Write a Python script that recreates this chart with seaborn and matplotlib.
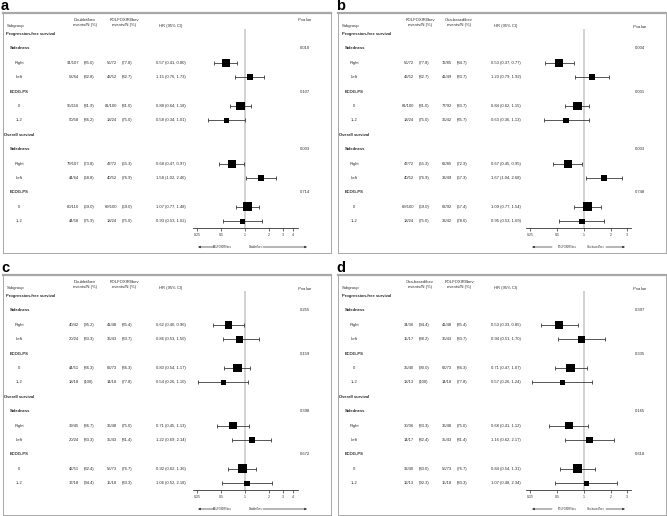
"""
Four-panel forest plot: HR by sidedness / ECOG-PS for PFS and OS.
"""
import matplotlib
matplotlib.use("Agg")
import matplotlib.pyplot as plt
import matplotlib.transforms as mtransforms
from matplotlib.ticker import NullLocator
import pandas as pd
import seaborn as sns

W, H = 667, 516

SUBGROUPS = ["Right", "Left", "0", "1–2", "Right", "Left", "0", "1–2"]
DATA_ROWS = [2, 3, 5, 6, 9, 10, 12, 13]
TICKS_4 = [0.25, 0.5, 1, 2, 3, 4]
TICKS_3 = [0.25, 0.5, 1, 2, 3]

# a: Doublet/bev vs FOLFOXIRI/bev
A_EV1 = ["91/107", "53/64", "95/116", "50/58", "79/107", "44/64", "80/116", "44/58"]
A_PCT1 = ["85.0", "82.8", "81.9", "86.2", "73.8", "68.8", "69.0", "75.9"]
A_EV2 = ["56/72", "43/52", "81/100", "18/24", "47/72", "40/52", "69/100", "18/24"]
A_PCT2 = ["77.8", "82.7", "81.0", "75.0", "65.3", "76.9", "69.0", "75.0"]
A_HR = [0.57, 1.15, 0.88, 0.58, 0.68, 1.58, 1.07, 0.93]
A_LO = [0.41, 0.76, 0.64, 0.34, 0.47, 1.02, 0.77, 0.53]
A_HI = [0.80, 1.73, 1.18, 1.01, 0.97, 2.46, 1.48, 1.62]
A_P = ["0.010", "0.107", "0.003", "0.714"]

# b: FOLFOXIRI/bev vs Oxa-based/bev
B_EV1 = ["56/72", "43/52", "81/100", "18/24", "47/72", "40/52", "69/100", "18/24"]
B_PCT1 = ["77.8", "82.7", "81.0", "75.0", "65.3", "76.9", "69.0", "75.0"]
B_EV2 = ["72/85", "41/49", "77/92", "36/42", "62/85", "33/49", "62/92", "33/42"]
B_PCT2 = ["84.7", "83.7", "83.7", "85.7", "72.9", "67.3", "67.4", "78.6"]
B_HR = [0.53, 1.23, 0.84, 0.63, 0.67, 1.67, 1.09, 0.95]
B_LO = [0.37, 0.79, 0.62, 0.36, 0.45, 1.04, 0.77, 0.53]
B_HI = [0.77, 1.92, 1.15, 1.13, 0.95, 2.68, 1.54, 1.69]
B_P = ["0.004", "0.001", "0.003", "0.748"]

# c: Doublet/bev vs FOLFOXIRI/bev
C_EV1 = ["40/42", "20/24", "44/51", "18/18", "39/45", "20/24", "42/51", "17/18"]
C_PCT1 = ["95.2", "83.3", "86.3", "100", "86.7", "83.3", "82.4", "94.4"]
C_EV2 = ["41/48", "36/43", "63/73", "14/18", "36/48", "35/43", "56/73", "15/18"]
C_PCT2 = ["85.4", "83.7", "86.3", "77.8", "75.0", "81.4", "76.7", "83.3"]
C_HR = [0.62, 0.86, 0.80, 0.54, 0.71, 1.22, 0.92, 1.06]
C_LO = [0.40, 0.53, 0.54, 0.26, 0.45, 0.69, 0.62, 0.52]
C_HI = [0.96, 1.50, 1.17, 1.10, 1.13, 2.14, 1.36, 2.18]
C_P = ["0.255", "0.159", "0.398", "0.672"]

# d: Oxa-based/bev vs FOLFOXIRI/bev
D_EV1 = ["34/36", "15/17", "36/40", "13/13", "30/36", "14/17", "32/40", "12/13"]
D_PCT1 = ["94.4", "88.2", "90.0", "100", "83.3", "82.4", "80.0", "92.3"]
D_EV2 = ["41/48", "36/43", "63/73", "14/18", "36/48", "35/43", "56/73", "15/18"]
D_PCT2 = ["85.4", "83.7", "86.3", "77.8", "75.0", "81.4", "76.7", "83.3"]
D_HR = [0.53, 0.94, 0.71, 0.57, 0.68, 1.16, 0.84, 1.07]
D_LO = [0.33, 0.51, 0.47, 0.26, 0.41, 0.62, 0.54, 0.48]
D_HI = [0.85, 1.70, 1.07, 1.24, 1.12, 2.17, 1.31, 2.34]
D_P = ["0.397", "0.335", "0.165", "0.618"]

sns.set_theme(style="white")
plt.rcParams["font.family"] = ["Liberation Sans", "DejaVu Sans"]
plt.rcParams["mathtext.fontset"] = "custom"
plt.rcParams["mathtext.it"] = "Liberation Sans:italic"

FS = 3.0
TXT = "#2a2a2a"
BOX_H = 240
ROW0 = 21.0     # px from box top to first row
ROW_H = 14.4    # px per row


def draw_panel(fig, letter, bx, by, arms, arrows, ev1, pct1, ev2, pct2,
               hr, lo, hi, pvals, ticks, geo, p_hdr_row):
    one_px, per_log2, fx0, fx1 = geo
    y_top = -ROW0 / ROW_H
    y_bot = (BOX_H - ROW0) / ROW_H

    bg = fig.add_axes([bx / W, 1 - (by + BOX_H) / H, 328 / W, BOX_H / H])
    bg.set_xticks([])
    bg.set_yticks([])
    for side, sp in bg.spines.items():
        sp.set_color("#a8a8a8")
        sp.set_linewidth(1.6 if side == "top" else 0.7)
    bg.set_zorder(0)

    fax = fig.add_axes([(bx + fx0) / W, 1 - (by + BOX_H) / H,
                        (fx1 - fx0) / W, BOX_H / H])
    fax.patch.set_alpha(0)
    fax.set_zorder(2)
    fax.set_xscale("log")
    fax.set_xlim(2 ** ((fx0 - one_px) / per_log2), 2 ** ((fx1 - one_px) / per_log2))
    fax.set_ylim(y_bot, y_top)

    n_tot = [int(a.split("/")[1]) + int(b.split("/")[1]) for a, b in zip(ev1, ev2)]
    df = pd.DataFrame({"hr": hr, "lo": lo, "hi": hi, "row": DATA_ROWS, "n": n_tot})

    fax.vlines(1, -0.35, 13.5, color="#c6c6c6", lw=1.1, zorder=1)
    fax.errorbar(df["hr"], df["row"], xerr=[df["hr"] - df["lo"], df["hi"] - df["hr"]],
                 fmt="none", ecolor="#3a3a3a", elinewidth=0.6, capsize=1.6,
                 capthick=0.6, zorder=3)
    sns.scatterplot(data=df, x="hr", y="row", size="n", sizes=(14, 40), marker="s",
                    color="black", linewidth=0, legend=False, ax=fax, zorder=4)
    fax.set_ylim(y_bot, y_top)

    for s in ["top", "right", "left"]:
        fax.spines[s].set_visible(False)
    fax.spines["bottom"].set_position(("data", 13.5))
    fax.spines["bottom"].set_color("#333333")
    fax.spines["bottom"].set_linewidth(0.6)
    fax.set_yticks([])
    fax.set_xticks(ticks)
    fax.set_xticklabels([f"{t:g}" for t in ticks])
    fax.xaxis.set_minor_locator(NullLocator())
    fax.tick_params(axis="x", direction="out", length=2, width=0.5, pad=1.2,
                    labelsize=2.5, colors="#333333", bottom=True)
    fax.set_xlabel("")
    fax.set_ylabel("")

    tr = mtransforms.blended_transform_factory(fig.transFigure, fax.transData)

    def put(rel_x, row, s, **kw):
        kw.setdefault("fontsize", FS)
        kw.setdefault("va", "center")
        kw.setdefault("color", TXT)
        fig.text((bx + rel_x) / W, row, s, transform=tr, **kw)

    # headers
    put(4, -0.55, "Subgroup")
    put(82, -0.8, f"{arms[0]}\nevents/N (%)", ha="center", linespacing=1.2)
    put(121, -0.8, f"{arms[1]}\nevents/N (%)", ha="center", linespacing=1.2)
    put(168, -0.55, "HR (95% CI)", ha="center")
    put(302, p_hdr_row, r"$P$ value", ha="center")

    put(3.5, 0, "Progression-free survival", fontweight="bold")
    put(1, 7, "Overall survival", fontweight="bold")
    for r in (1, 8):
        put(7, r, "Sidedness", fontweight="bold")
    for r in (4, 11):
        put(7, r, "ECOG-PS", fontweight="bold")
    for r, p in zip((1, 4, 8, 11), pvals):
        put(302, r, p, ha="center")

    for i, r in enumerate(DATA_ROWS):
        put(16, r, SUBGROUPS[i], ha="center")
        put(76, r, ev1[i], ha="right")
        put(81, r, f"({pct1[i]})", ha="left")
        put(114, r, ev2[i], ha="right")
        put(119, r, f"({pct2[i]})", ha="left")
        put(168, r, f"{hr[i]:.2f} ({lo[i]:.2f}, {hi[i]:.2f})", ha="center")

    # favours arrows
    ar_row = (234 - ROW0) / ROW_H
    (lhead, ltail, ltext), (rtext, rtail, rhead) = arrows[2], arrows[3]
    put(ltext, ar_row, arrows[0], ha="right", fontsize=1.9)
    put(rtext, ar_row, arrows[1], ha="left", fontsize=1.9)
    ap = dict(arrowstyle="-|>", lw=0.5, color="#333333", mutation_scale=3,
              shrinkA=0, shrinkB=0)
    fax.annotate("", xy=((bx + lhead) / W, ar_row), xytext=((bx + ltail) / W, ar_row),
                 xycoords=tr, textcoords=tr, arrowprops=ap, annotation_clip=False)
    fax.annotate("", xy=((bx + rhead) / W, ar_row), xytext=((bx + rtail) / W, ar_row),
                 xycoords=tr, textcoords=tr, arrowprops=ap, annotation_clip=False)

    fig.text((bx - 2) / W, 1 - (by - 3.5) / H, letter, fontsize=10.5,
             fontweight="bold", color="black", va="baseline", ha="left")


fig = plt.figure(figsize=(W / 100, H / 100), dpi=100)

GEO_A = (242, 24, 190, 295)
GEO_B = (246, 27, 188, 293)
ARR_A = ((195, 212, 229), (246, 260, 304))
ARR_B = ((194, 214, 239), (249, 268, 287))

draw_panel(fig, "a", 3, 13, ("Doublet/bev", "FOLFOXIRI/bev"),
           ("FOLFOXIRI/bev", "Doublet/bev") + ARR_A,
           A_EV1, A_PCT1, A_EV2, A_PCT2, A_HR, A_LO, A_HI, A_P, TICKS_4, GEO_A, -1.0)
draw_panel(fig, "b", 338, 13, ("FOLFOXIRI/bev", "Oxa-based/bev"),
           ("FOLFOXIRI/bev", "Oxa-based/bev") + ARR_B,
           B_EV1, B_PCT1, B_EV2, B_PCT2, B_HR, B_LO, B_HI, B_P, TICKS_3, GEO_B, -0.5)
draw_panel(fig, "c", 3, 275, ("Doublet/bev", "FOLFOXIRI/bev"),
           ("FOLFOXIRI/bev", "Doublet/bev") + ARR_A,
           C_EV1, C_PCT1, C_EV2, C_PCT2, C_HR, C_LO, C_HI, C_P, TICKS_4, GEO_A, -0.5)
draw_panel(fig, "d", 338, 275, ("Oxa-based/bev", "FOLFOXIRI/bev"),
           ("FOLFOXIRI/bev", "Oxa-based/bev") + ARR_B,
           D_EV1, D_PCT1, D_EV2, D_PCT2, D_HR, D_LO, D_HI, D_P, TICKS_3, GEO_B, -0.5)

fig.savefig("out.png", dpi=100)
